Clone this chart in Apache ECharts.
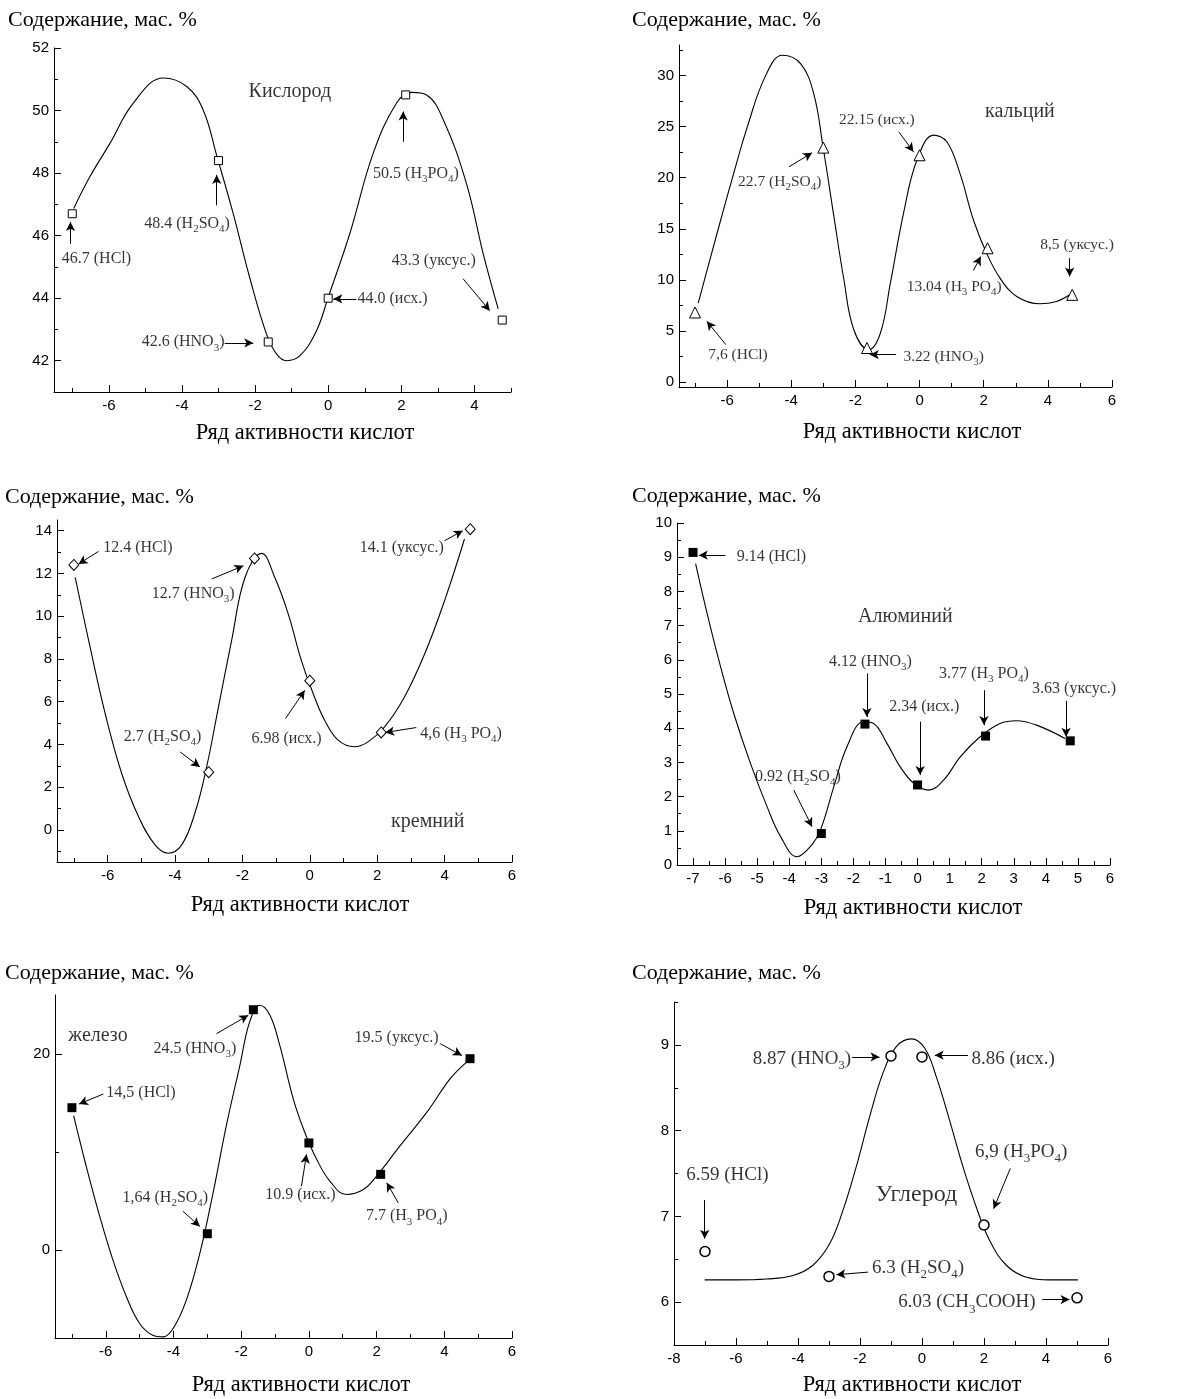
<!DOCTYPE html>
<html><head><meta charset="utf-8">
<script src="https://cdn.jsdelivr.net/npm/echarts@6/dist/echarts.min.js"></script>
<style>html,body{margin:0;padding:0;background:#fff}#c{width:1190px;height:1399px}</style>
</head><body><div id="c"></div>
<script>
// ---------- DATA ----------
const acidX = [-7, -3, -1.64, 0, 2.12, 4.76];
const carbonX = [-7, -3, -1, 0, 2, 5];

const oxygenY = [46.7, 48.4, 42.6, 44.0, 50.5, 43.3];
const calciumY = [6.8, 22.95, 3.32, 22.2, 13.09, 8.53];
const siliconY = [12.4, 2.7, 12.7, 6.98, 4.56, 14.07];
const aluminiumY = [9.14, 0.92, 4.12, 2.34, 3.77, 3.63];
const ironY = [14.5, 1.64, 24.5, 10.9, 7.7, 19.5];
const carbonY = [6.59, 6.3, 8.87, 8.86, 6.9, 6.05];

const oxygenLabels = ['46.7 (HCl)', '48.4 (H_2SO_4)', '42.6 (HNO_3)', '44.0 (исх.)', '50.5 (H_3PO_4)', '43.3 (уксус.)'];
const calciumLabels = ['7,6 (HCl)', '22.7 (H_2SO_4)', '3.22 (HNO_3)', '22.15 (исх.)', '13.04 (H_3 PO_4)', '8,5 (уксус.)'];
const siliconLabels = ['12.4 (HCl)', '2.7 (H_2SO_4)', '12.7 (HNO_3)', '6.98 (исх.)', '4,6 (H_3 PO_4)', '14.1 (уксус.)'];
const aluminiumLabels = ['9.14 (HCl)', '0.92 (H_2SO_4)', '4.12 (HNO_3)', '2.34 (исх.)', '3.77 (H_3 PO_4)', '3.63 (уксус.)'];
const ironLabels = ['14,5 (HCl)', '1,64 (H_2SO_4)', '24.5 (HNO_3)', '10.9 (исх.)', '7.7 (H_3 PO_4)', '19.5 (уксус.)'];
const carbonLabels = ['6.59 (HCl)', '6.3 (H_2SO_4)', '8.87 (HNO_3)', '8.86 (исх.)', '6,9 (H_3PO_4)', '6.03 (CH_3COOH)'];

const oxygenCurveX = [-6.96,-6.52,-5.97,-5.33,-4.51,-3.87,-3.42,-3.04,-2.60,-2.15,-1.69,-1.41,-1.14,-0.77,-0.32,0,0.59,1.23,1.87,2.28,2.69,3.15,3.78,4.24,4.65];
const oxygenCurveY = [46.87,47.88,48.95,50.24,51.04,50.77,50.02,48.52,46.71,44.67,42.86,42.21,42.0,42.16,42.96,44.03,46.06,48.63,50.24,50.58,50.5,49.7,47.67,45.42,43.66];
const calciumCurveX = [-6.90,-6.51,-6.2,-5.83,-5.37,-4.80,-4.28,-3.71,-3.30,-3.01,-2.67,-2.36,-2.05,-1.59,-1.22,-0.91,-0.50,-0.08,0.44,0.85,1.26,1.68,2.09,2.51,3.03,3.75,4.27,4.68];
const calciumCurveY = [7.72,12.28,15.86,20.03,24.98,30.0,31.99,31.17,28.24,23.03,16.19,10.03,5.11,3.16,4.79,9.67,16.51,21.73,24.17,23.52,20.42,15.86,12.61,10.16,8.37,7.65,7.88,8.53];
const siliconCurveX = [-6.96,-6.56,-6.07,-5.58,-5.08,-4.59,-4.20,-3.80,-3.41,-3.06,-2.71,-2.32,-1.92,-1.43,-1.04,-0.64,-0.25,0.10,0.44,0.84,1.33,1.73,2.22,2.81,3.41,4.00,4.59];
const siliconCurveY = [11.82,8.86,5.44,2.64,0.62,-0.70,-1.09,-0.70,0.78,2.95,5.75,8.86,11.82,12.94,11.82,10.11,7.93,6.38,5.13,4.20,3.89,4.12,4.82,6.22,8.24,10.73,13.61];
const aluminiumCurveX = [-6.92,-6.56,-6.14,-5.73,-5.21,-4.69,-4.27,-3.76,-3.34,-3.03,-2.61,-2.20,-1.68,-1.37,-0.95,-0.54,-0.12,0.34,0.81,1.33,1.95,2.57,3.09,3.71,4.60];
const aluminiumCurveY = [8.81,7.35,5.79,4.43,2.97,1.70,0.83,0.24,0.54,1.02,2.29,3.46,4.19,4.14,3.55,2.87,2.39,2.19,2.48,3.16,3.75,4.14,4.22,4.09,3.70];
const ironCurveX = [-6.95,-6.58,-6.18,-5.79,-5.39,-5.0,-4.61,-4.31,-4.01,-3.62,-3.22,-2.83,-2.44,-2.04,-1.75,-1.45,-1.15,-0.86,-0.46,-0.12,0.23,0.62,1.11,1.61,2.0,2.69,3.48,4.17,4.66];
const ironCurveY = [13.68,8.55,3.42,-1.03,-4.79,-7.52,-8.72,-8.89,-8.03,-5.13,-0.34,5.81,12.65,18.80,23.25,24.96,23.93,20.85,15.38,11.97,9.23,7.01,5.64,6.15,7.52,10.60,14.02,17.44,19.15];
const carbonCurveX = [-7.01,-6.0,-5.02,-4.16,-3.52,-2.98,-2.55,-2.12,-1.69,-1.26,-0.83,-0.34,0.09,0.46,0.89,1.32,1.75,2.18,2.72,3.37,4.12,5.03];
const carbonCurveY = [6.26,6.26,6.27,6.31,6.43,6.68,7.07,7.58,8.16,8.67,8.98,9.07,8.96,8.63,8.12,7.58,7.11,6.72,6.43,6.29,6.26,6.26];

// tick values (minor = all ticks) / tick labels (major)
const xTicks1 = [-7,-6,-5,-4,-3,-2,-1,0,1,2,3,4,5];
const xLabels1 = [-6,-4,-2,0,2,4];
const xTicksStd = [-7,-6,-5,-4,-3,-2,-1,0,1,2,3,4,5,6];
const xLabelsStd = [-6,-4,-2,0,2,4,6];
const xTicksAl = [-7,-6.5,-6,-5.5,-5,-4.5,-4,-3.5,-3,-2.5,-2,-1.5,-1,-0.5,0,0.5,1,1.5,2,2.5,3,3.5,4,4.5,5,5.5,6];
const xLabelsAl = [-7,-6,-5,-4,-3,-2,-1,0,1,2,3,4,5,6];
const xTicksC = [-8,-7,-6,-5,-4,-3,-2,-1,0,1,2,3,4,5,6];
const xLabelsC = [-8,-6,-4,-2,0,2,4,6];
const yTicksO = [41,42,43,44,45,46,47,48,49,50,51,52];
const yLabelsO = [42,44,46,48,50,52];
const yTicksCa = [0,2.5,5,7.5,10,12.5,15,17.5,20,22.5,25,27.5,30,32.5];
const yLabelsCa = [0,5,10,15,20,25,30];
const yTicksSi = [-1,0,1,2,3,4,5,6,7,8,9,10,11,12,13,14];
const yLabelsSi = [0,2,4,6,8,10,12,14];
const yTicksAl = [0,0.5,1,1.5,2,2.5,3,3.5,4,4.5,5,5.5,6,6.5,7,7.5,8,8.5,9,9.5,10];
const yLabelsAl = [0,1,2,3,4,5,6,7,8,9,10];
const yTicksFe = [0,10,20];
const yLabelsFe = [0,20];
const yTicksC = [5.5,6,6.5,7,7.5,8,8.5,9,9.5];
const yLabelsC = [6,7,8,9];

const panelNames = ['Кислород', 'кальций', 'кремний', 'Алюминий', 'железо', 'Углерод'];
const yTitle = 'Содержание, мас. %';
const xTitle = 'Ряд активности кислот';

// ---------- LAYOUT (annotation placement, grids, styles) ----------
const panels = [
  { grid:[54,48,457,344], x:[-7.5,5,xTicks1,xLabels1], y:[41,52,yTicksO,yLabelsO],
    px:acidX, py:oxygenY, cx:oxygenCurveX, cy:oxygenCurveY, labels:oxygenLabels,
    sym:'rect', size:8, fill:'#fff', bw:1,
    yT:[8,20], xT:[305,433], nameAt:[-1.05,50.61], nameSize:20, annSize:16,
    ann:[[-6.34,45.26,-7.05,45.74,-7.05,46.44],[-3.86,46.39,-3.05,46.97,-3.05,47.94],[-3.97,42.59,-2.83,42.57,-2.05,42.57],
         [1.76,43.98,0.77,43.98,0.14,43.98],[2.40,47.99,2.05,49.0,2.05,49.97],[2.89,45.21,3.69,44.62,4.42,43.60]] },
  { grid:[679,45,433,342], x:[-7.5,6,xTicksStd,xLabelsStd], y:[-0.5,33,yTicksCa,yLabelsCa],
    px:acidX, py:calciumY, cx:calciumCurveX, cy:calciumCurveY, labels:calciumLabels,
    sym:'triangle', size:11, fill:'#fff', bw:1,
    yT:[632,20], xT:[912,432], nameAt:[3.13,26.45], nameSize:20, annSize:15.5,
    ann:[[-5.66,2.67,-6.04,3.65,-6.63,5.93],[-4.36,19.61,-4.07,21.07,-3.35,22.44],[0.75,2.44,-0.73,2.67,-1.55,2.67],
         [-1.33,25.64,-0.65,24.50,-0.19,22.54],[1.08,9.35,1.68,10.91,1.91,12.28],[4.91,13.42,4.68,12.12,4.68,10.33]] },
  { grid:[57,520,455,342], x:[-7.5,6,xTicksStd,xLabelsStd], y:[-1.5,14.5,yTicksSi,yLabelsSi],
    px:acidX, py:siliconY, cx:siliconCurveX, cy:siliconCurveY, labels:siliconLabels,
    sym:'diamond', size:[10,11], fill:'#fff', bw:1,
    yT:[5,497], xT:[300,905], nameAt:[3.50,0.39], nameSize:20, annSize:16,
    ann:[[-5.10,13.22,-6.27,13.03,-6.86,12.44],[-4.37,4.35,-3.85,3.65,-3.26,2.95],[-3.46,11.04,-2.91,11.74,-1.97,12.36],
         [-0.69,4.28,-0.72,5.21,-0.15,6.53],[4.49,4.51,3.16,4.79,2.24,4.56],[2.73,13.22,4.0,13.53,4.54,14.0]] },
  { grid:[677,523,433,342], x:[-7.5,6,xTicksAl,xLabelsAl], y:[0,10,yTicksAl,yLabelsAl],
    px:acidX, py:aluminiumY, cx:aluminiumCurveX, cy:aluminiumCurveY, labels:aluminiumLabels,
    sym:'rect', size:9, fill:'#000', bw:0,
    yT:[632,496], xT:[913,908], nameAt:[-0.38,7.25], nameSize:20, annSize:16,
    ann:[[-4.56,9.0,-5.99,9.06,-6.82,9.06],[-3.73,2.58,-3.86,2.19,-3.29,1.12],[-1.47,5.94,-1.58,5.6,-1.58,4.33],
         [0.21,4.63,0.08,4.19,0.08,2.63],[2.07,5.6,2.07,5.11,2.07,4.09],[4.88,5.16,4.63,4.80,4.63,3.75]] },
  { grid:[55,995,457,343], x:[-7.5,6,xTicksStd,xLabelsStd], y:[-9,26,yTicksFe,yLabelsFe],
    px:acidX, py:ironY, cx:ironCurveX, cy:ironCurveY, labels:ironLabels,
    sym:'rect', size:9, fill:'#000', bw:0,
    yT:[5,973], xT:[301,1385], nameAt:[-6.23,21.81], nameSize:20, annSize:16,
    ann:[[-4.96,16.07,-6.07,15.9,-6.79,14.87],[-4.24,5.30,-3.72,3.93,-3.22,2.39],[-3.37,20.51,-2.73,22.05,-1.79,23.93],
         [-0.25,5.57,-0.22,6.50,-0.07,9.74],[2.89,3.42,2.64,4.79,2.30,6.84],[2.59,21.61,3.88,21.03,4.52,19.83]] },
  { grid:[674,1002,434,343], x:[-8,6,xTicksC,xLabelsC], y:[5.5,9.5,yTicksC,yLabelsC],
    px:carbonX, py:carbonY, cx:carbonCurveX, cy:carbonCurveY, labels:carbonLabels,
    sym:'circle', size:10, fill:'#fff', bw:1.5,
    yT:[632,973], xT:[912,1385], nameAt:[-0.18,7.25], nameSize:24, annSize:19,
    ann:[[-6.28,7.48,-7.01,7.19,-7.01,6.74],[-0.13,6.40,-1.74,6.35,-2.76,6.32],[-3.87,8.84,-2.25,8.86,-1.37,8.86],
         [2.94,8.84,1.48,8.88,0.41,8.88],[3.2,7.75,2.85,7.56,2.31,7.09],[1.45,6.0,3.88,6.03,4.76,6.03]] }
];

const SERIF = '"Liberation Serif", "Times New Roman", serif';
const SANS = '"Liberation Sans", Arial, sans-serif';
const zip = (a, b) => a.map((v, i) => [v, b[i]]);
const fmt = s => s.replace(/_(\d)/g, '{s|$1}');

// major axis: line + long ticks at labelled values + labels
function axisMajor(r, gi, dim) {
  return {
    type: 'value', gridIndex: gi, min: r[0], max: r[1], position: dim === 'x' ? 'bottom' : 'left',
    axisLine: { show: true, onZero: false, lineStyle: { color: '#000', width: 1 } },
    axisTick: { show: true, inside: true, length: 7, customValues: r[3], lineStyle: { color: '#000', width: 1 } },
    axisLabel: { show: true, customValues: r[3], color: '#000', fontFamily: SANS, fontSize: 15,
                 margin: dim === 'x' ? 6 : 5, formatter: v => String(v) },
    splitLine: { show: false }
  };
}
// minor axis: short ticks only
function axisMinor(r, gi, dim) {
  return {
    type: 'value', gridIndex: gi, min: r[0], max: r[1], position: dim === 'x' ? 'bottom' : 'left',
    axisLine: { show: false, onZero: false },
    axisTick: { show: true, inside: true, length: 4, customValues: r[2], lineStyle: { color: '#000', width: 1 } },
    axisLabel: { show: false },
    splitLine: { show: false }
  };
}

const option = { animation: false, backgroundColor: '#fff', grid: [], xAxis: [], yAxis: [], series: [], graphic: [] };

panels.forEach((p, i) => {
  option.grid.push({ left: p.grid[0], top: p.grid[1], width: p.grid[2], height: p.grid[3] });
  option.xAxis.push(axisMajor(p.x, i, 'x'));
  option.yAxis.push(axisMajor(p.y, i, 'y'));
});
panels.forEach((p, i) => {
  option.xAxis.push(axisMinor(p.x, i, 'x'));
  option.yAxis.push(axisMinor(p.y, i, 'y'));
});

panels.forEach((p, i) => {
  option.series.push({
    type: 'line', xAxisIndex: i, yAxisIndex: i, data: zip(p.cx, p.cy), smooth: 0.4,
    symbol: 'none', showSymbol: false, silent: true, z: 2,
    lineStyle: { color: '#000', width: 1.1 }
  });
  option.series.push({
    type: 'scatter', xAxisIndex: i, yAxisIndex: i, data: zip(p.px, p.py),
    symbol: p.sym, symbolSize: p.size, silent: true, z: 3,
    itemStyle: { color: p.fill, borderColor: '#000', borderWidth: p.bw, opacity: 1 },
    markLine: {
      silent: true, symbol: ['none', 'arrow'], symbolSize: [7, 9], animation: false,
      label: { show: false }, emphasis: { disabled: true },
      lineStyle: { color: '#000', width: 1, type: 'solid' },
      data: p.ann.map(a => [{ coord: [a[2], a[3]] }, { coord: [a[4], a[5]] }])
    }
  });
  const annData = p.ann.map((a, k) => [a[0], a[1], p.labels[k]]);
  annData.push([p.nameAt[0], p.nameAt[1], panelNames[i], 1]);
  const subSize = Math.round(p.annSize * 0.7);
  option.series.push({
    type: 'scatter', xAxisIndex: i, yAxisIndex: i, data: annData,
    symbolSize: 1, silent: true, z: 4, itemStyle: { color: 'rgba(0,0,0,0)' },
    label: {
      show: true, position: 'inside', color: '#000',
      formatter: q => q.data[3] ? '{n|' + q.data[2] + '}' : fmt(q.data[2]),
      fontFamily: SERIF, fontSize: p.annSize, lineHeight: Math.round(p.annSize * 1.4),
      rich: {
        s: { fontFamily: SERIF, fontSize: subSize, lineHeight: subSize + 1, verticalAlign: 'bottom', color: '#000' },
        n: { fontFamily: SERIF, fontSize: p.nameSize, color: '#000' }
      }
    }
  });
  option.graphic.push({ type: 'text', x: p.yT[0], y: p.yT[1], silent: true,
    style: { text: yTitle, font: '22px ' + SERIF, fill: '#000', align: 'left', verticalAlign: 'middle' } });
  option.graphic.push({ type: 'text', x: p.xT[0], y: p.xT[1], silent: true,
    style: { text: xTitle, font: '22.5px ' + SERIF, fill: '#000', align: 'center', verticalAlign: 'middle' } });
});

const chart = echarts.init(document.getElementById('c'), null, { renderer: 'canvas' });
chart.setOption(option);
</script>
</body></html>
